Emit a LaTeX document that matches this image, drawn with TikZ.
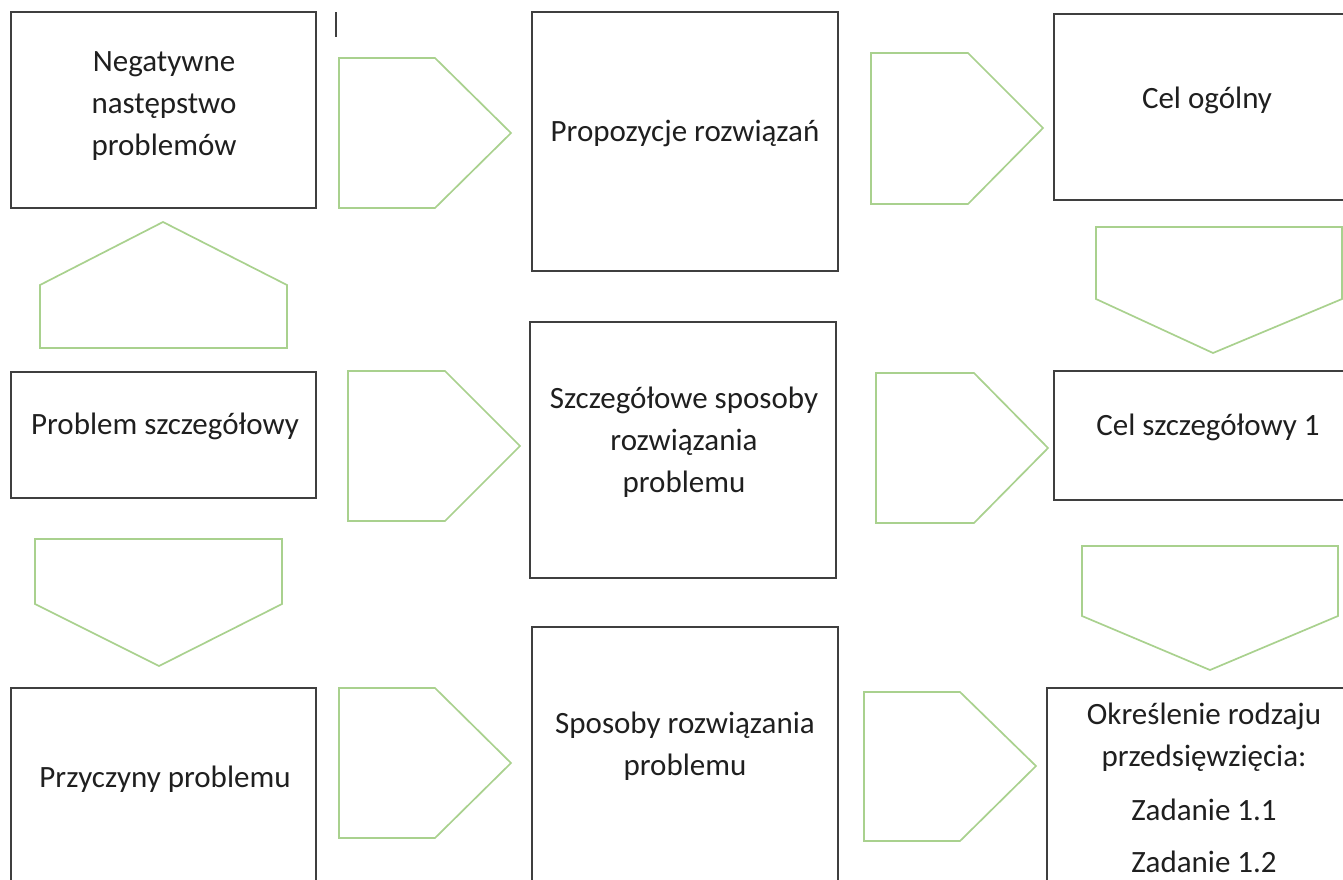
\documentclass[tikz,border=0pt]{standalone}
\usepackage{fontspec}
\setmainfont{Carlito}
\definecolor{boxgray}{HTML}{3F3F3F}
\definecolor{arrowgreen}{HTML}{A9D18E}
\tikzset{
  box/.style={draw=boxgray, line width=1.6pt, fill=none, inner sep=0pt, outer sep=0pt, anchor=north west},
  blockarrow/.style={draw=arrowgreen, line width=1.7pt, line join=miter},
  lbl/.style={font=\fontsize{31}{42}\selectfont, align=center, inner sep=0pt, text=black!88},
}
\begin{document}
\begin{tikzpicture}[x=1pt,y=-1pt]
\useasboundingbox (0,0) rectangle (1343,879);
\clip (0,0) rectangle (1343,879);

% boxes, column 1
\node[box, minimum width=305pt, minimum height=196pt] (neg) at (11,12) {};
\node[box, minimum width=305pt, minimum height=126pt] (psz) at (11,372) {};
\node[box, minimum width=305pt, minimum height=220pt] (prz) at (11,688) {};
% boxes, column 3
\node[box, minimum width=306pt, minimum height=259pt] (prop) at (532,12) {};
\node[box, minimum width=306pt, minimum height=256pt] (szsp) at (530,322) {};
\node[box, minimum width=306pt, minimum height=280pt] (spos) at (532,627) {};
% boxes, column 5
\node[box, minimum width=320pt, minimum height=186pt] (celo) at (1054,14) {};
\node[box, minimum width=320pt, minimum height=129pt] (cels) at (1054,371) {};
\node[box, minimum width=320pt, minimum height=220pt] (okr) at (1047,688) {};

% labels
\node[lbl] (tneg) at (164,106) {Negatywne\\następstwo\\problemów};
\node[lbl] (tpsz) at (165,426) {Problem szczegółowy};
\node[lbl] (tprz) at (165,779) {Przyczyny problemu};
\node[lbl] (tprop) at (685,133) {Propozycje rozwiązań};
\node[lbl] (tszsp) at (684,442) {Szczegółowe sposoby\\rozwiązania\\problemu};
\node[lbl] (tspos) at (685,746) {Sposoby rozwiązania\\problemu};
\node[lbl] (tcelo) at (1207,100) {Cel ogólny};
\node[lbl] (tcels) at (1208,427) {Cel szczegółowy 1};
\node[lbl] (tokr) at (1204,788) {Określenie rodzaju\\przedsięwzięcia:\\[12pt]Zadanie 1.1\\[10pt]Zadanie 1.2};

% text cursor mark
\draw[line width=1.5pt, boxgray] (336,12) -- (336,37);

% block arrows pointing right
\draw[blockarrow] (339,58) -- (435,58) -- (511,133) -- (435,208) -- (339,208) -- cycle;
\draw[blockarrow] (348,371) -- (445,371) -- (520,446) -- (445,521) -- (348,521) -- cycle;
\draw[blockarrow] (339,688) -- (435,688) -- (511,763) -- (435,838) -- (339,838) -- cycle;
\draw[blockarrow] (871,53) -- (968,53) -- (1043,128) -- (968,204) -- (871,204) -- cycle;
\draw[blockarrow] (876,373) -- (974,373) -- (1048,448) -- (974,523) -- (876,523) -- cycle;
\draw[blockarrow] (864,692) -- (960,692) -- (1036,766) -- (960,841) -- (864,841) -- cycle;
% block arrow pointing up
\draw[blockarrow] (40,348) -- (40,285) -- (163,222) -- (287,285) -- (287,348) -- cycle;
% block arrows pointing down
\draw[blockarrow] (35,539) -- (282,539) -- (282,604) -- (159,666) -- (35,604) -- cycle;
\draw[blockarrow] (1096,227) -- (1342,227) -- (1342,299) -- (1213,353) -- (1096,299) -- cycle;
\draw[blockarrow] (1082,546) -- (1338,546) -- (1338,616) -- (1210,670) -- (1082,616) -- cycle;
\end{tikzpicture}
\end{document}
